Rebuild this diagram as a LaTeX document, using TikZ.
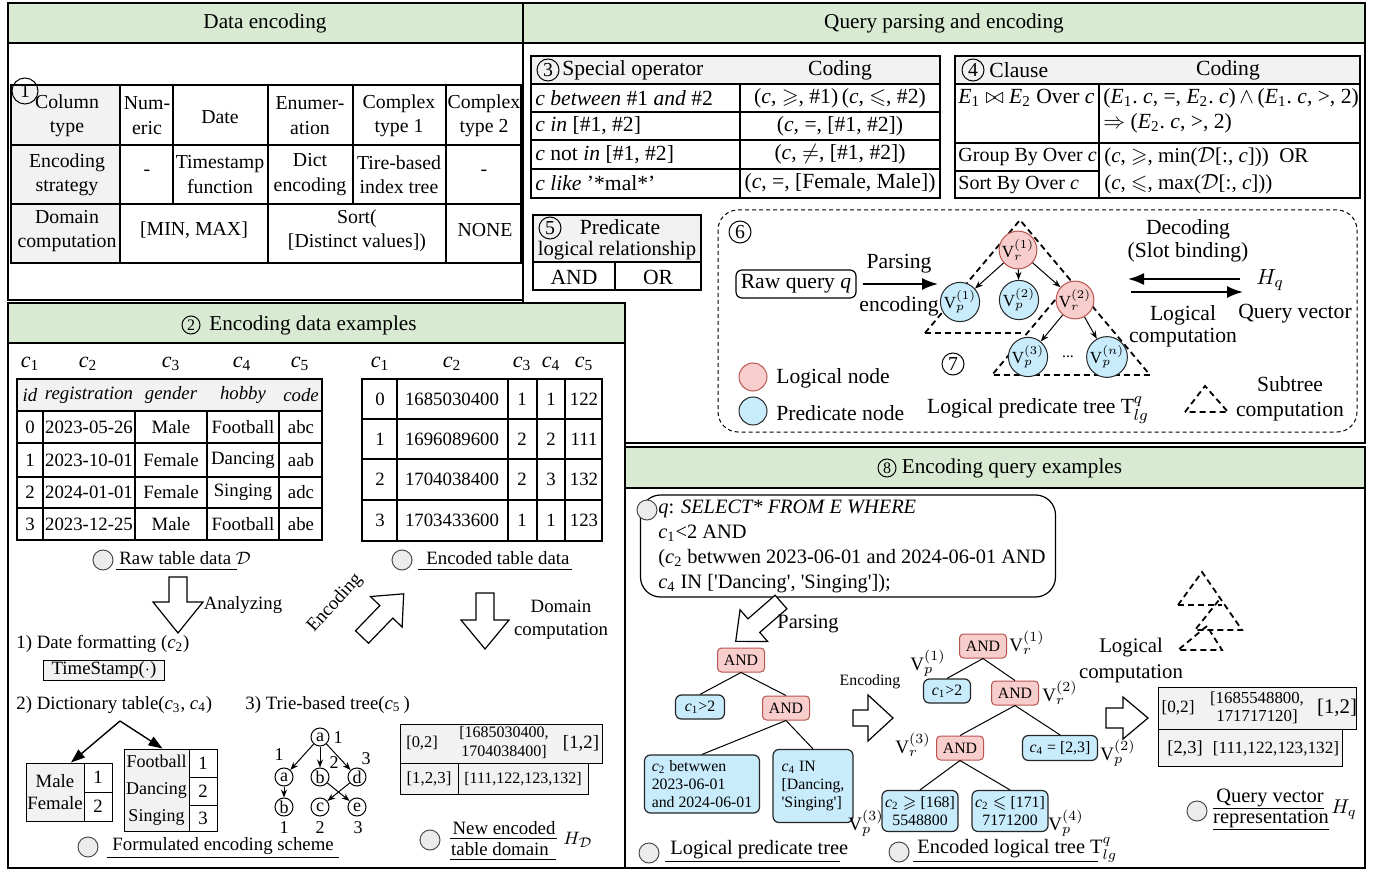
\documentclass[tikz,border=0pt]{standalone}
\usepackage{amsmath,amssymb}
\usepackage{fontspec}
\setmainfont{Liberation Serif}
\usetikzlibrary{arrows.meta,calc}
\definecolor{hdrg}{RGB}{217,234,211}
\definecolor{cgray}{RGB}{242,242,242}
\definecolor{rfill}{RGB}{248,206,204}
\definecolor{rline}{RGB}{184,84,80}
\definecolor{bfill}{RGB}{201,236,252}
\definecolor{capc}{RGB}{236,236,236}
\newcommand\fA{\fontsize{9.9}{12.2}\selectfont}
\newcommand\fT{\fontsize{10.8}{12.5}\selectfont}
\newcommand\fB{\fontsize{9.4}{11}\selectfont}
\newcommand\fS{\fontsize{7.9}{9}\selectfont}
\newcommand\fQ{\fontsize{10.2}{12.5}\selectfont}
\newcommand\fH{\fontsize{10.6}{12}\selectfont}
\newcommand\cc[1]{\textit{c}\textsubscript{#1}}
\newcommand\ee[1]{\textit{E}\textsubscript{#1}}
\newcommand\sq{\textquotesingle}
\newcommand\harrow[7]{\draw[fill=white,line width=0.6pt,line join=miter,shift={(#1,#2)},rotate=#3] (0,-#5) -- ({#4-#7},-#5) -- ({#4-#7},-#6) -- (#4,0) -- ({#4-#7},#6) -- ({#4-#7},#5) -- (0,#5) -- cycle;}
\begin{document}
\begin{tikzpicture}[x=0.5pt,y=-0.5pt,
 every node/.style={font=\fA,inner sep=1pt},
 sec/.style={draw,line width=0.8pt},
 tbl/.style={line width=0.55pt},
 cnum/.style={draw,circle,inner sep=0pt,minimum size=11pt,line width=0.5pt,font=\fA},
 capcirc/.style={draw=black!70,fill=capc,circle,minimum size=10pt,inner sep=0pt,line width=0.5pt},
 rnode/.style={circle,draw=rline,fill=rfill,minimum size=15pt,inner sep=0pt,font=\fontsize{8.5}{9}\selectfont,line width=0.5pt},
 pnode/.style={circle,draw=black!85,fill=bfill,minimum size=15pt,inner sep=0pt,font=\fontsize{8.5}{9}\selectfont,line width=0.5pt},
 andb/.style={rounded corners=2pt,draw=rline,fill=rfill,minimum width=23.5pt,minimum height=12pt,inner sep=1pt,font=\fS,line width=0.5pt},
 predb/.style={rounded corners=3pt,draw=black!85,fill=bfill,inner sep=1.5pt,font=\fS,line width=0.6pt},
 tri/.style={dash pattern=on 3pt off 2pt,line width=0.9pt},
 tnode/.style={circle,draw,inner sep=0pt,minimum size=9pt,font=\fontsize{9}{10}\selectfont,line width=0.5pt},
 sarr/.style={-{Stealth[length=4pt,width=3pt]},line width=0.5pt},
 barr/.style={-{Latex[length=8pt,width=6pt]},line width=0.9pt},
 ln/.style={line width=0.5pt},
 gbox/.style={fill=cgray,draw,line width=0.5pt},
 vlab/.style={font=\fontsize{9.5}{10}\selectfont,inner sep=0pt}
]
\useasboundingbox (0,0) rectangle (1375,871);
% ---------- sections ----------
\draw[sec,fill=white] (523,3) rectangle (1365,443);
\draw[sec,fill=hdrg] (523,3) rectangle (1365,43);
\draw[sec,fill=white] (8,3) rectangle (523,300);
\draw[sec,fill=hdrg] (8,3) rectangle (523,43);
\draw[sec,fill=white] (8,303) rectangle (625,868);
\draw[sec,fill=hdrg] (8,303) rectangle (625,343);
\draw[sec,fill=white] (625,447) rectangle (1365,868);
\draw[sec,fill=hdrg] (625,447) rectangle (1365,488);
\node[font=\fH] (h1) at (265,23) {Data encoding};
\node[font=\fH] (h2) at (944,23) {Query parsing and encoding};
\node[cnum,minimum size=9pt,font=\fontsize{8}{9}\selectfont] (h3n) at (191,325) {2};
\node[font=\fH] (h3) at (313,325) {Encoding data examples};
\node[cnum,minimum size=9pt,font=\fontsize{8}{9}\selectfont] (h4n) at (887,468) {8};
\node[font=\fH] (h4) at (1012,468) {Encoding query examples};
% ---------- table 1 ----------
\fill[cgray] (11,85) rectangle (120,263);
\draw[tbl] (11,85) rectangle (521,263);
\draw[tbl] (11,145) -- (521,145) (11,204) -- (521,204);
\draw[tbl] (120,85) -- (120,263) (173,85) -- (173,204) (268,85) -- (268,263) (353,85) -- (353,204) (446,85) -- (446,263);
\node[cnum,minimum size=13pt] (n1) at (25,91) {1};
\node[align=center] (t1a) at (67,115.5) {Column\\type};
\node[align=center] (t1b) at (147,115.5) {Num-\\eric};
\node (t1c) at (220,117) {Date};
\node[align=center] (t1d) at (310,115.5) {Enumer-\\ation};
\node[align=center] (t1e) at (399,115.5) {Complex\\type 1};
\node[align=center] (t1f) at (484,115.5) {Complex\\type 2};
\node[align=center] (t2a) at (67,174.5) {Encoding\\strategy};
\node (t2b) at (147,173) {-};
\node[align=center] (t2c) at (220,174.5) {Timestamp\\function};
\node[align=center] (t2d) at (310,174.5) {Dict\\encoding};
\node[align=center] (t2e) at (399,174.5) {Tire-based\\index tree};
\node (t2f) at (484,173) {-};
\node[align=center] (t3a) at (67,231) {Domain\\computation};
\node (t3b) at (194,230) {[MIN, MAX]};
\node[align=center] (t3c) at (357,231) {Sort(\\{[}Distinct values])};
\node (t3d) at (485,230) {NONE};
% ---------- table 3 ----------
\fill[cgray] (531,56) rectangle (940,84);
\draw[tbl] (531,56) rectangle (940,198);
\draw[tbl] (531,84) -- (940,84) (531,112) -- (940,112) (531,140) -- (940,140) (531,169) -- (940,169) (740,84) -- (740,198);
\node[cnum] (n3) at (548,70) {3};
\node[font=\fT,anchor=west] (o0) at (560,70) {Special operator};
\node[font=\fT] (o0c) at (840,70) {Coding};
\node[font=\fT,anchor=west] (o1) at (533,98) {\textit{c between} \#1 \textit{and} \#2};
\node[font=\fT] (o1c) at (840,98) {(\textit{c}, $\geqslant$,\ \#1)\,(\textit{c}, $\leqslant$,\ \#2)};
\node[font=\fT,anchor=west] (o2) at (533,126) {\textit{c in} [\#1, \#2]};
\node[font=\fT] (o2c) at (840,126) {(\textit{c}, =, [\#1, \#2])};
\node[font=\fT,anchor=west] (o3) at (533,154.5) {\textit{c} not \textit{in} [\#1, \#2]};
\node[font=\fT] (o3c) at (840,154.5) {(\textit{c}, $\neq$, [\#1, \#2])};
\node[font=\fT,anchor=west] (o4) at (533,183.5) {\textit{c like} '*mal*'};
\node[font=\fT] (o4c) at (840,183.5) {(\textit{c}, =, [Female, Male])};
% ---------- table 4 ----------
\fill[cgray] (955,56) rectangle (1360,84);
\draw[tbl] (955,56) rectangle (1360,198);
\draw[tbl] (955,84) -- (1360,84) (955,143) -- (1360,143) (955,171) -- (1099,171) (1099,84) -- (1099,198);
\node[cnum] (n4) at (973,70) {4};
\node[font=\fT,anchor=west] (k0) at (987,70) {Clause};
\node[font=\fT] (k0c) at (1228,70) {Coding};
\node[font=\fT,anchor=west] (k1) at (956,98) {\ee{1} $\bowtie$ \ee{2} Over \textit{c}};
\node[font=\fT,anchor=west,align=left] (k1c) at (1101,111) {(\ee{1}.\ \textit{c}, =, \ee{2}.\ \textit{c})\,$\wedge$\,(\ee{1}.\ \textit{c}, >, 2)\\$\Rightarrow$ (\ee{2}.\ \textit{c}, >, 2)};
\node[font=\fontsize{10}{12}\selectfont,anchor=west] (k2) at (956,157) {Group By Over \textit{c}};
\node[font=\fontsize{10}{12}\selectfont,anchor=west] (k3) at (956,185) {Sort By Over \textit{c}};
\node[font=\fontsize{10.5}{13.5}\selectfont,anchor=west,align=left] (k2c) at (1102,171) {(\textit{c}, $\geqslant$, min($\mathcal{D}$[:, \textit{c}]))\ \ OR\\(\textit{c}, $\leqslant$, max($\mathcal{D}$[:, \textit{c}]))};
% ---------- table 5 ----------
\fill[cgray] (533,215) rectangle (701,262);
\draw[tbl] (533,215) rectangle (701,290);
\draw[tbl] (533,262) -- (701,262) (615,262) -- (615,290);
\node[cnum] (n5) at (550,228) {5};
\node[font=\fT] (p1) at (620,227) {Predicate};
\node[font=\fontsize{10.3}{12}\selectfont] (p2) at (617,251) {logical relationship};
\node[font=\fT] (p3) at (574,277) {AND};
\node[font=\fT] (p4) at (658,277) {OR};
% ---------- box 6 ----------
\draw[dash pattern=on 2pt off 1.5pt,rounded corners=10pt,line width=0.5pt] (718,210) rectangle (1357,432);
\node[cnum] (n6) at (740,232) {6};
\node[draw,rounded corners=3pt,minimum width=60pt,minimum height=14pt,font=\fT,line width=0.6pt] (rq) at (796,284) {Raw query \textit{q}};
\coordinate (pt1) at (938,284);
\draw[barr,shorten <=3pt] (rq.east) -- (pt1);
\node[font=\fT] (pa1) at (899,264) {Parsing};
\node[font=\fT] (pa2) at (899,306) {encoding};
\draw[tri] (925,333) -- (1020,220) -- (1150,375) -- (992,375) -- (1071,281);
\draw[tri] (925,333) -- (1024,333);
\node[rnode] (vr1) at (1018,250) {$\mathrm{V}_r^{(1)}$};
\node[pnode] (vp1) at (960,302) {$\mathrm{V}_p^{(1)}$};
\node[pnode] (vp2) at (1019,300) {$\mathrm{V}_p^{(2)}$};
\node[rnode] (vr2) at (1075,300) {$\mathrm{V}_r^{(2)}$};
\node[pnode] (vp3) at (1028,357) {$\mathrm{V}_p^{(3)}$};
\node[font=\fS] (dots) at (1068,357) {...};
\node[pnode] (vpn) at (1107,357) {$\mathrm{V}_p^{(n)}$};
\draw[sarr] (vr1) -- (vp1);
\draw[sarr] (vr1) -- (vp2);
\draw[sarr] (vr1) -- (vr2);
\draw[sarr] (vr2) -- (vp3);
\draw[sarr] (vr2) -- (vpn);
\node[cnum] (n7) at (953,364) {7};
\node[font=\fontsize{10.8}{11.5}\selectfont,align=center] (dec) at (1188,241) {Decoding\\(Slot binding)};
\coordinate (la1) at (1240,279);
\coordinate (la2) at (1128,279);
\draw[barr] (la1) -- (la2);
\coordinate (ra1) at (1131,292);
\coordinate (ra2) at (1243,292);
\draw[barr] (ra1) -- (ra2);
\node[font=\fT] (hq) at (1270,280) {$H_q$};
\node[font=\fontsize{10.8}{11}\selectfont,align=center] (lcomp) at (1183,326) {Logical\\computation};
\node[font=\fT] (qvec) at (1295,314) {Query vector};
\node[rnode,minimum size=14pt] (lgr) at (753,377) {};
\node[pnode,minimum size=14pt] (lgb) at (753,411) {};
\node[font=\fT,anchor=west] (lgrt) at (774,378) {Logical node};
\node[font=\fT,anchor=west] (lgbt) at (774,413) {Predicate node};
\node[font=\fT] (lpt) at (1038,410) {Logical predicate tree $\mathrm{T}^{q}_{lg}$};
\draw[tri] (1185,412) -- (1205,386) -- (1228,412) -- cycle;
\node[font=\fontsize{10.8}{12.5}\selectfont,align=center] (subt) at (1290,399) {Subtree\\computation};
% ---------- section 2 tables ----------
\begin{scope}[every node/.style={font=\fontsize{11}{12}\selectfont,inner sep=1pt}]
\node (lc1) at (30,364) {\cc{1}};
\node (lc2) at (88,364) {\cc{2}};
\node (lc3) at (171,364) {\cc{3}};
\node (lc4) at (242,364) {\cc{4}};
\node (lc5) at (300,364) {\cc{5}};
\node (rc1) at (380,364) {\cc{1}};
\node (rc2) at (452,364) {\cc{2}};
\node (rc3) at (522,364) {\cc{3}};
\node (rc4) at (551,364) {\cc{4}};
\node (rc5) at (584,364) {\cc{5}};
\end{scope}
\fill[cgray] (17,379) rectangle (322,411);
\draw[tbl] (17,379) rectangle (322,540);
\draw[tbl] (17,411) -- (322,411) (17,443) -- (322,443) (17,477) -- (322,477) (17,508) -- (322,508);
\draw[tbl] (43,411) -- (43,540) (135,411) -- (135,540) (207,411) -- (207,540) (279,411) -- (279,540);
\begin{scope}[every node/.style={font=\fB,inner sep=1pt}]
\node (r00) at (30,395) {\textit{id}};
\node (r01) at (89,395) {\textit{registration}};
\node (r02) at (171,395) {\textit{gender}};
\node (r03) at (243,395) {\textit{hobby}};
\node (r04) at (301,395) {\textit{code}};
\node (r10) at (30,427) {0}; \node (r11) at (89,427) {2023-05-26}; \node (r12) at (171,427) {Male}; \node (r13) at (243,427) {Football}; \node (r14) at (301,427) {abc};
\node (r20) at (30,460) {1}; \node (r21) at (89,460) {2023-10-01}; \node (r22) at (171,460) {Female}; \node (r23) at (243,460) {Dancing}; \node (r24) at (301,460) {aab};
\node (r30) at (30,492.5) {2}; \node (r31) at (89,492.5) {2024-01-01}; \node (r32) at (171,492.5) {Female}; \node (r33) at (243,492.5) {Singing}; \node (r34) at (301,492.5) {adc};
\node (r40) at (30,524) {3}; \node (r41) at (89,524) {2023-12-25}; \node (r42) at (171,524) {Male}; \node (r43) at (243,524) {Football}; \node (r44) at (301,524) {abe};
\end{scope}
\draw[tbl] (362,379) rectangle (602,541);
\draw[tbl] (362,419) -- (602,419) (362,459) -- (602,459) (362,500) -- (602,500);
\draw[tbl] (397,379) -- (397,541) (508,379) -- (508,541) (537,379) -- (537,541) (565,379) -- (565,541);
\begin{scope}[every node/.style={font=\fB,inner sep=1pt}]
\node (e10) at (380,399) {0}; \node (e11) at (452,399) {1685030400}; \node (e12) at (522,399) {1}; \node (e13) at (551,399) {1}; \node (e14) at (584,399) {122};
\node (e20) at (380,439) {1}; \node (e21) at (452,439) {1696089600}; \node (e22) at (522,439) {2}; \node (e23) at (551,439) {2}; \node (e24) at (584,439) {111};
\node (e30) at (380,479.5) {2}; \node (e31) at (452,479.5) {1704038400}; \node (e32) at (522,479.5) {2}; \node (e33) at (551,479.5) {3}; \node (e34) at (584,479.5) {132};
\node (e40) at (380,520.5) {3}; \node (e41) at (452,520.5) {1703433600}; \node (e42) at (522,520.5) {1}; \node (e43) at (551,520.5) {1}; \node (e44) at (584,520.5) {123};
\end{scope}
\node[capcirc] (cp1) at (103,560) {};
\node[font=\fB,anchor=west] (cpt1) at (117,558) {Raw table data $\mathcal{D}$};
\draw[ln] (116,569) -- (237,569);
\node[capcirc] (cp2) at (402,560) {};
\node[font=\fB,anchor=west] (cpt2) at (424,558) {Encoded table data};
\draw[ln] (418,569) -- (572,569);
% ---------- section 2 middle ----------
\harrow{178}{577}{-90}{56}{9}{25}{31}
\node[font=\fB] (anl) at (243,605) {Analyzing};
\harrow{362}{637}{46}{60}{9}{22}{25}
\node[font=\fB,rotate=48,inner sep=0pt] (encl) at (335,603) {Encoding};
\harrow{485}{593}{-90}{56}{9}{24}{29}
\node[font=\fontsize{9.4}{11.5}\selectfont,align=center] (domc) at (561,620) {Domain\\computation};
\node[font=\fB,anchor=west] (s1) at (14,644) {1) Date formatting (\cc{2})};
\node[gbox,minimum width=60.5pt,minimum height=10pt,font=\fB,inner sep=0pt] (tsb) at (104,670) {TimeStamp($\cdot$)};
\node[font=\fB,anchor=west] (s2) at (14,705) {2) Dictionary table(\cc{3}, \cc{4})};
\node[font=\fB,anchor=west] (s3) at (243,705) {3) Trie-based tree(\cc{5}\,)};
\node[gbox,minimum width=29pt,minimum height=29pt,align=center,font=\fontsize{9.4}{11}\selectfont,inner sep=0pt] (mbox) at (55,792) {Male\\Female};
\node[draw,line width=0.5pt,minimum width=14pt,minimum height=14.5pt,font=\fB,inner sep=0pt] (m1) at (98,777.5) {1};
\node[draw,line width=0.5pt,minimum width=14pt,minimum height=14.5pt,font=\fB,inner sep=0pt] (m2) at (98,806.5) {2};
\node[gbox,minimum width=32.5pt,minimum height=41pt,align=center,font=\fontsize{9}{13.5}\selectfont,inner sep=0pt] (fbox) at (156.5,790) {Football\\Dancing\\Singing};
\node[draw,line width=0.5pt,minimum width=14pt,minimum height=14pt,font=\fB,inner sep=0pt] (f1) at (203,763) {1};
\node[draw,line width=0.5pt,minimum width=14pt,minimum height=14pt,font=\fB,inner sep=0pt] (f2) at (203,791) {2};
\node[draw,line width=0.5pt,minimum width=14pt,minimum height=13pt,font=\fB,inner sep=0pt] (f3) at (203,818) {3};
\coordinate (dap) at (120,721);
\draw[-{Triangle[length=7pt,width=5pt]},line width=0.7pt] (dap) -- ([xshift=8pt]mbox.north);
\draw[-{Triangle[length=7pt,width=5pt]},line width=0.7pt] (dap) -- ([xshift=3pt]fbox.north);
% trie
\node[tnode] (t0) at (320,737) {a};
\node[tnode] (ta) at (284,777) {a};
\node[tnode] (tb) at (320,777) {b};
\node[tnode] (td) at (357,777) {d};
\node[tnode] (tb2) at (284,807) {b};
\node[tnode] (tc) at (320,807) {c};
\node[tnode] (te) at (357,807) {e};
\draw[sarr] (t0) -- (ta);
\draw[sarr] (t0) -- (tb);
\draw[sarr] (t0) -- (td);
\draw[sarr] (ta) -- (tb2);
\draw[sarr] (tb) -- (te);
\draw[sarr] (td) -- (tc);
\begin{scope}[every node/.style={font=\fontsize{9}{10}\selectfont,inner sep=0pt}]
\node (tl0) at (338,738) {1};
\node (tl1) at (279,755) {1};
\node (tl2) at (334,763) {2};
\node (tl3) at (366,759) {3};
\node (tl4) at (284,828) {1};
\node (tl5) at (320,828) {2};
\node (tl6) at (358,828) {3};
\end{scope}
% domain table
\node[gbox,minimum width=101pt,minimum height=19.5pt] (hd1) at (501,743.5) {};
\node[gbox,minimum width=94pt,minimum height=15.5pt] (hd2) at (494,778.5) {};
\draw[ln] (458,763) -- (458,794);
\node[font=\fontsize{8.2}{9}\selectfont] (hd1a) at (422,743) {[0,2]};
\node[font=\fontsize{8}{9.5}\selectfont,align=center] (hd1b) at (504,743) {[1685030400,\\1704038400]};
\node[font=\fontsize{9.4}{10}\selectfont] (hd1c) at (581,743) {[1,2]};
\node[font=\fontsize{8.4}{9}\selectfont] (hd2a) at (429,779) {[1,2,3]};
\node[font=\fontsize{8}{9}\selectfont] (hd2b) at (523,779) {[111,122,123,132]};
\node[capcirc] (cp3) at (88,847) {};
\node[font=\fB,anchor=west] (cpt3) at (110,846) {Formulated encoding scheme};
\draw[ln] (107,857) -- (339,857);
\node[capcirc] (cp4) at (430,840) {};
\node[font=\fB] (cpt4a) at (504,828) {New encoded};
\node[font=\fB] (cpt4b) at (500,849) {table domain};
\draw[ln] (450,838) -- (557,838);
\draw[ln] (450,859) -- (556,859);
\node[font=\fB] (hdl) at (578,840) {$H_{\mathcal{D}}$};
% ---------- section 8 ----------
\node[draw,rounded corners=10pt,minimum width=207.5pt,minimum height=51pt,line width=0.6pt] (qbox) at (848,546) {};
\node[font=\fQ,anchor=west,align=left] (qtxt) at (656,546) {\textit{q}: \textit{SELECT* FROM E WHERE}\\\cc{1}<2 AND\\(\cc{2} betwwen 2023-06-01 and 2024-06-01 AND\\\cc{4} IN [\sq Dancing\sq, \sq Singing\sq]);};
\node[capcirc] (cpq) at (647,510) {};
\harrow{781}{602}{-139}{60}{9}{21}{24}
\node[font=\fQ,anchor=west] (prs) at (775,624) {Parsing};
% left tree
\node[andb] (la) at (741,660) {AND};
\node[predb,minimum width=24.5pt,minimum height=12pt] (lq1) at (700,707) {\cc{1}>2};
\node[andb] (la2) at (786,708) {AND};
\node[predb,minimum width=57.5pt,minimum height=29pt,align=left] (lq2) at (702,784) {\cc{2} betwwen\\2023-06-01\\and 2024-06-01};
\node[predb,minimum width=40pt,minimum height=36.5pt,align=left] (lq4) at (813,786) {\cc{4} IN\\{[}Dancing,\\\sq Singing\sq]};
\draw[ln] (la.south) -- (lq1.north);
\draw[ln] (la.south) -- (la2.north);
\draw[ln] (la2.south) -- (lq2.north);
\draw[ln] (la2.south) -- (lq4.north);
\node[capcirc] (cp5) at (649,853) {};
\node[font=\fQ,anchor=west] (cpt5) at (668,850) {Logical predicate tree};
\draw[ln] (665,861) -- (840,861);
\node[font=\fS] (encq) at (870,682) {Encoding};
\harrow{853}{718}{0}{40}{8}{23}{25}
% encoded tree
\node[andb] (ea1) at (983,646) {AND};
\node[predb,minimum width=23.5pt,minimum height=12pt] (eq1) at (947,691) {\cc{1}>2};
\node[andb] (ea2) at (1015,693) {AND};
\node[andb] (ea3) at (960,748) {AND};
\node[predb,minimum width=37.5pt,minimum height=12.5pt] (eq4) at (1060,748) {\cc{4} = [2,3]};
\node[predb,minimum width=38pt,minimum height=20.5pt,align=center] (eq2a) at (920,811) {\cc{2} $\geqslant$ [168]\\5548800};
\node[predb,minimum width=38pt,minimum height=20.5pt,align=center] (eq2b) at (1010,811) {\cc{2} $\leqslant$ [171]\\7171200};
\draw[ln] (ea1.south) -- (eq1.north);
\draw[ln] (ea1.south) -- (ea2.north);
\draw[ln] (ea2.south) -- (ea3.north);
\draw[ln] (ea2.south) -- (eq4.north);
\draw[ln] (ea3.south) -- (eq2a.north);
\draw[ln] (ea3.south) -- (eq2b.north);
\node[vlab] (lvr1) at (1027,643) {$\mathrm{V}_r^{(1)}$};
\node[vlab] (lvp1) at (928,663) {$\mathrm{V}_p^{(1)}$};
\node[vlab] (lvr2) at (1060,693) {$\mathrm{V}_r^{(2)}$};
\node[vlab] (lvr3) at (913,745) {$\mathrm{V}_r^{(3)}$};
\node[vlab] (lvp2) at (1118,753) {$\mathrm{V}_p^{(2)}$};
\node[vlab] (lvp3) at (866,823) {$\mathrm{V}_p^{(3)}$};
\node[vlab] (lvp4) at (1066,823) {$\mathrm{V}_p^{(4)}$};
\node[capcirc] (cp6) at (899,852) {};
\node[font=\fQ,anchor=west] (cpt6) at (915,850) {Encoded logical tree $\mathrm{T}^{q}_{lg}$};
\draw[ln] (913,861) -- (1098,861);
% stacked triangles
\draw[tri] (1178,605) -- (1202,572) -- (1242,630) -- (1195,630) -- (1219,600);
\draw[tri] (1178,605) -- (1222,605);
\draw[tri] (1207,626) -- (1178,650) -- (1222,650) -- (1210,631);
\node[font=\fontsize{10.4}{13}\selectfont,align=center] (lgc) at (1131,660) {Logical\\computation};
\harrow{1106}{718}{0}{42}{10}{21}{25}
\node[gbox,minimum width=99pt,minimum height=21pt] (qv1) at (1257,708) {};
\node[gbox,minimum width=92pt,minimum height=18.5pt] (qv2) at (1250,747.5) {};
\node[font=\fontsize{8.6}{9}\selectfont] (qva) at (1178,708) {[0,2]};
\node[font=\fontsize{8.4}{9}\selectfont,align=center] (qvb) at (1257,708) {[1685548800,\\171717120]};
\node[font=\fontsize{10.4}{11}\selectfont] (qvc) at (1337,708) {[1,2]};
\node[font=\fontsize{9.2}{10}\selectfont] (qvd) at (1185,749) {[2,3]};
\node[font=\fontsize{8.6}{9}\selectfont] (qve) at (1276,749) {[111,122,123,132]};
\node[capcirc] (cp7) at (1197,811) {};
\node[font=\fQ] (qr1) at (1270,798) {Query vector};
\node[font=\fQ] (qr2) at (1271,819) {representation};
\draw[ln] (1213,808) -- (1324,808);
\draw[ln] (1213,829) -- (1329,829);
\node[font=\fQ] (hql) at (1344,810) {$H_q$};
\end{tikzpicture}
\end{document}
